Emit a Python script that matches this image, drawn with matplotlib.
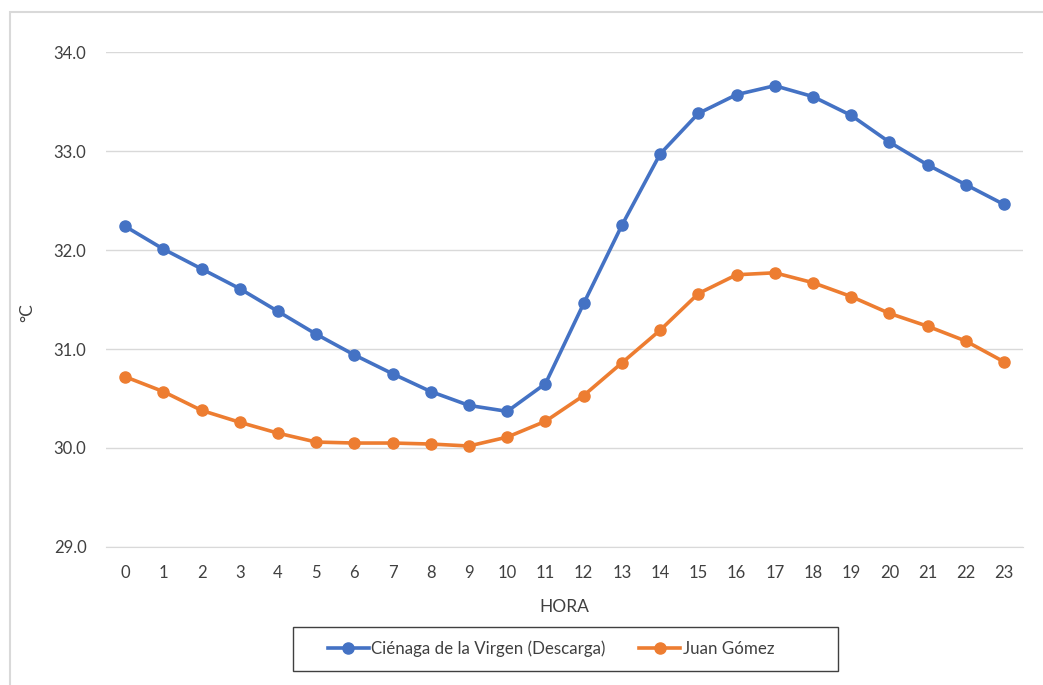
import matplotlib.pyplot as plt
from matplotlib.patches import Rectangle

# hourly mean temperature for two sites
horas = list(range(24))
cienaga = [32.24, 32.01, 31.81, 31.61, 31.38, 31.15, 30.94, 30.75, 30.57, 30.43,
           30.37, 30.65, 31.46, 32.25, 32.97, 33.38, 33.57, 33.66, 33.55, 33.36,
           33.09, 32.86, 32.66, 32.46]
juan_gomez = [30.72, 30.57, 30.38, 30.26, 30.15, 30.06, 30.05, 30.05, 30.04, 30.02,
              30.11, 30.27, 30.53, 30.86, 31.19, 31.56, 31.75, 31.77, 31.67, 31.53,
              31.36, 31.23, 31.08, 30.87]
y_ticks = [29.0, 30.0, 31.0, 32.0, 33.0, 34.0]

plt.rcParams['font.family'] = ['Lato', 'DejaVu Sans']

fig = plt.figure(figsize=(10.43, 6.85), dpi=100)
ax = fig.add_axes([0.1016, 0.2015, 0.8794, 0.7225])

# outer chart border (only top/left fall inside the image)
fig.patches.append(Rectangle((10 / 1043, -0.05), 1.1, 1 - 12 / 685 + 0.05,
                             transform=fig.transFigure, fill=False,
                             edgecolor='#d9d9d9', linewidth=1.5, clip_on=False))
# legend box
fig.patches.append(Rectangle((293 / 1043, 1 - 671 / 685), 545 / 1043, 44 / 685,
                             transform=fig.transFigure, fill=False,
                             edgecolor='#404040', linewidth=1.0))

ax.plot(horas, cienaga, '-o', color='#4472C4', lw=2.6, ms=8,
        label='Ciénaga de la Virgen (Descarga)')
ax.plot(horas, juan_gomez, '-o', color='#ED7D31', lw=2.6, ms=8,
        label='Juan Gómez')

ax.set_xlim(-0.5, 23.5)
ax.set_ylim(29, 34)
ax.set_xticks(horas)
ax.set_yticks(y_ticks)
ax.set_yticklabels([f'{v:.1f}' for v in y_ticks])
ax.tick_params(length=0, labelsize=12, colors='#404040', pad=14)
ax.tick_params(axis='x', pad=13)
ax.grid(axis='y', color='#d9d9d9', lw=1)
ax.set_axisbelow(True)
for s in ['top', 'right', 'left']:
    ax.spines[s].set_visible(False)
ax.spines['bottom'].set_color('#d9d9d9')

ax.set_xlabel('HORA', fontsize=12.5, color='#404040', labelpad=13)
fig.text(27 / 1043, 1 - 313 / 685, '°C', rotation=90, fontsize=12.5,
         color='#404040', ha='center', va='center')

leg = ax.legend(loc='center', bbox_to_anchor=(551 / 1043, 1 - 649 / 685),
                bbox_transform=fig.transFigure, ncol=2, fontsize=12.2,
                frameon=False, handlelength=2.4, columnspacing=2.0,
                handletextpad=0.15)
for t in leg.get_texts():
    t.set_color('#404040')

fig.savefig('out.png', dpi=100)
